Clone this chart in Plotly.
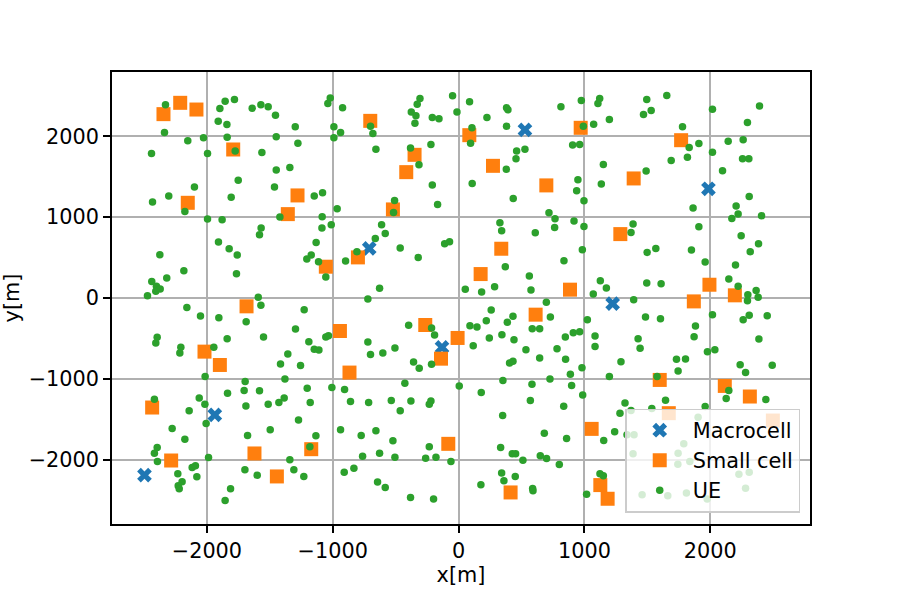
import plotly.graph_objects as go

macro_x = [527, 1985, -710, -132, 1224, -1937, -2496]
macro_y = [2079, 1350, 613, -610, -70, -1445, -2190]

small_x = [-2345, -2212, -2083, -1791, -2152,
           -702, -350, -416, -1280, -1357, -522,
           85, 970, 273, 697, 1391,
           1768,
           -1685, -2019, -1897,
           -1055, -800, -943, -265, -8, -140,
           1285, 339, 175, 885, 612,
           1993, 2195, 1869,
           -2435, -2284, -1622, -1444,
           -867, -1171, -82,
           1057, 413, 1126, 1184,
           1598, 2115, 2314, 1670, 2497]
small_y = [2273, 2413, 2330, 1836, 1177,
           2190, 1770, 1556, 1268, 1037, 1095,
           2013, 2104, 1634, 1392, 1478,
           1951,
           -103, -663, -828,
           387, 502, -408, -334, -494, -750,
           790, 609, 296, 103, -206,
           164, 33, -42,
           -1354, -2009, -1922, -2206,
           -922, -1869, -1803,
           -1618, -2404, -2313, -2482,
           -1013, -1087, -1218, -1424, -1515]

ue_pts = [
    # upper-left
    (-2329, 2388), (-1855, 2433), (-1781, 2454), (-1897, 2343), (-1640, 2347), (-1571, 2388), (-1513, 2363),
    (-1455, 2260), (-1910, 2186), (-1841, 2145), (-2337, 2046), (-2152, 1943), (-2027, 1980), (-1839, 1988),
    (-1449, 1993), (-2440, 1787), (-1995, 1787), (-1775, 1816), (-1563, 1799), (-1449, 1581), (-1751, 1457),
    (-2099, 1371), (-1463, 1371), (-2303, 1260), (-2432, 1186), (-1807, 1247), (-2175, 1070), (-1995, 976),
    (-1879, 967), (-1420, 1000),
    (-1020, 2474), (-1039, 2404), (-922, 2351), (-307, 2466), (-329, 2396), (-48, 2499), (-13, 2301),
    (-376, 2301), (-339, 2252), (-347, 2161), (-209, 2231), (-156, 2215), (-1298, 2116), (-991, 2116),
    (-938, 2046), (-991, 1980), (-700, 2124), (-681, 2034), (-1277, 1914), (-657, 1840), (-382, 1853),
    (-220, 1898), (-1341, 1614), (-315, 1647), (-209, 1396), (-1147, 1260), (-1081, 1301), (-965, 1103),
    (-509, 1206), (-167, 1157), (-517, 1058), (-1084, 1005),
    (87, 2425), (381, 2351), (392, 2326), (225, 2231), (813, 2363), (975, 2441), (1121, 2466), (1107, 2404),
    (1198, 2207), (1073, 2149), (991, 2124), (106, 2104), (381, 2124), (95, 1914), (906, 1890), (962, 1898),
    (527, 1840), (461, 1816), (456, 1721), (379, 1593), (1150, 1651), (108, 1416), (948, 1461), (938, 1326),
    (1134, 1408), (434, 1231), (996, 1202), (718, 1054), (766, 980),
    (1495, 2454), (1654, 2503), (1469, 2268), (1530, 2318), (2017, 2334), (2391, 2375), (1779, 2116),
    (2295, 2170), (1909, 1910), (1832, 1861), (2142, 1939), (2261, 1956), (2017, 1803), (1818, 1741),
    (1689, 1700), (2256, 1721), (2306, 1721), (1490, 1569), (2097, 1573), (2309, 1256), (1863, 1112),
    (2205, 1136), (2221, 1037), (2171, 984), (2407, 1017),
    # middle band
    (-1569, 864), (-1582, 782), (-1908, 691), (-1823, 609), (-1759, 531), (-2374, 535), (-2183, 337),
    (-1765, 300), (-2319, 247), (-2438, 205), (-2401, 144), (-2371, 111), (-2406, 82), (-2472, 28),
    (-1592, 8), (-1571, -91), (-2159, -116), (-2051, -223), (-1905, -243), (-1688, -293), (-2395, -486),
    (-2406, -556), (-1839, -503), (-1550, -482), (-2207, -610), (-2215, -680), (-1945, -610), (-1415, -816),
    (-1086, 864), (-1012, 905), (-612, 905), (-583, 798), (-662, 737), (-1132, 687), (-464, 617),
    (-111, 671), (-72, 695), (-808, 572), (-1171, 531), (-1206, 481), (-1113, 448), (-898, 457),
    (-321, 502), (-1055, 259), (-628, 119), (-721, -13), (-1227, -144), (-1296, -383), (-397, -338),
    (-215, -371), (-191, -457), (-1055, -482), (-1034, -466), (-1190, -540), (-1147, -634), (-1110, -643),
    (-1357, -692), (-721, -544), (-700, -700), (-602, -680), (-506, -618), (-358, -791), (-313, -869),
    (-215, -820), (-1256, -836),
    (328, 930), (342, 831), (763, 872), (917, 951), (996, 885), (1386, 914), (1370, 811), (609, 807),
    (983, 597), (837, 461), (371, 387), (562, 271), (575, 98), (53, 107), (183, 74), (286, 140),
    (1126, 214), (1174, 123), (1070, 49), (1391, -21), (697, -54), (259, -149), (432, -227), (729, -235),
    (1023, -268), (220, -280), (387, -301), (90, -342), (146, -359), (585, -379), (644, -379), (911, -429),
    (962, -416), (848, -482), (1084, -470), (244, -494), (344, -453), (440, -515), (116, -589), (1084, -601),
    (535, -639), (782, -626), (644, -741), (850, -758), (405, -803), (432, -783), (980, -861), (1290, -787),
    (1909, 881), (2245, 769), (2383, 671), (2317, 572), (1498, 564), (1567, 613), (1850, 592), (1959, 444),
    (2200, 407), (2147, 234), (2221, 144), (1495, 185), (1609, 177), (2298, 41), (2364, 94), (2380, 8),
    (2295, -33), (2017, -206), (1485, -235), (1604, -256), (2309, -214), (2261, -268), (2452, -219),
    (1882, -346), (1871, -478), (1426, -503), (1442, -622), (2386, -507), (2036, -639), (1977, -663),
    (1731, -758), (1803, -754), (2237, -824), (2492, -832),
    # lower band
    (-2014, -971), (-1696, -1033), (-1380, -1000), (-1704, -1144), (-1582, -1148), (-1836, -1177),
    (-2061, -1235), (-2417, -1251), (-2016, -1313), (-1690, -1334), (-1513, -1313), (-1428, -1292),
    (-1386, -1235), (-2141, -1395), (-2006, -1552), (-2276, -1614), (-1497, -1630), (-1677, -1700),
    (-2175, -1745), (-2395, -1848), (-2417, -1918), (-2393, -2021), (-1987, -1972), (-2117, -2095),
    (-2091, -2075), (-2231, -2174), (-2080, -2211), (-2197, -2272), (-2228, -2322), (-2220, -2359),
    (-1698, -2124), (-1600, -2190), (-1812, -2359), (-1855, -2503),
    (-1203, -1115), (-1007, -1107), (-906, -1132), (-1179, -1292), (-859, -1280), (-715, -1292),
    (-535, -1268), (-379, -1272), (-464, -1395), (-427, -1054), (-220, -1272), (-233, -1313), (5, -1087),
    (-1272, -1507), (-938, -1630), (-774, -1700), (-657, -1642), (-522, -1766), (-1134, -1704),
    (-1182, -1840), (-233, -1840), (-763, -1955), (-628, -1918), (-506, -1968), (-262, -1980),
    (-180, -1968), (-61, -2021), (-1341, -2001), (-1309, -2124), (-1230, -2206), (-909, -2153),
    (-832, -2104), (-644, -2276), (-583, -2342), (-382, -2466), (-199, -2486),
    (352, -1021), (583, -1066), (726, -1000), (888, -943), (898, -1083), (1198, -971), (180, -1169),
    (986, -1198), (570, -1268), (835, -1338), (1322, -1297), (1282, -1424), (1370, -1391), (350, -1453),
    (681, -1671), (858, -1737), (1153, -1762), (1240, -1655), (334, -1848), (426, -1926), (453, -1926),
    (511, -2005), (649, -1951), (699, -1984), (800, -2058), (342, -2165), (360, -2260), (450, -2206),
    (177, -2309), (588, -2355), (591, -2383), (1123, -2174), (1150, -2198), (1017, -2425), (1338, -1692),
    (1394, -1692), (1386, -1926),
    (1577, -971), (1744, -901), (2280, -922), (2147, -1144), (2126, -1243), (2441, -1255), (1644, -1264),
    (1535, -1367), (1959, -1342), (1903, -1474), (1789, -1803), (1744, -1918), (1742, -2054),
    (1837, -2021), (1604, -1992), (2227, -2178), (2309, -2153), (2280, -2351), (1458, -2433),
    (1662, -2445), (1810, -2412), (1975, -2486),
]
ue_x = [p[0] for p in ue_pts]
ue_y = [p[1] for p in ue_pts]

tick_vals = [-2000, -1000, 0, 1000, 2000]
FS = 20.8
FONT = "DejaVu Sans"

fig = go.Figure()
fig.add_trace(go.Scatter(x=macro_x, y=macro_y, mode="markers", name="Macrocell",
                         legendgroup="a",
                         marker=dict(symbol="x", size=13, color="#1f77b4", line=dict(width=0))))
fig.add_trace(go.Scatter(x=small_x, y=small_y, mode="markers", name="Small cell",
                         legendgroup="b",
                         marker=dict(symbol="square", size=14, color="#ff7f0e", line=dict(width=0))))
fig.add_trace(go.Scatter(x=ue_x, y=ue_y, mode="markers", name="UE",
                         legendgroup="c",
                         marker=dict(symbol="circle", size=7.5, color="#2ca02c", line=dict(width=0))))

axis_common = dict(
    showgrid=True, gridcolor="#b0b0b0", gridwidth=1.6,
    showline=True, linecolor="black", linewidth=1.6, mirror=True,
    ticks="outside", ticklen=7, tickwidth=1.6, tickcolor="black",
    tickfont=dict(family=FONT, size=FS, color="black"),
    zeroline=False, tickvals=tick_vals, automargin=False,
)
fig.update_xaxes(range=[-2754, 2792], title=dict(text="x[m]", standoff=4,
                 font=dict(family=FONT, size=FS, color="black")), **axis_common)
fig.update_yaxes(range=[-2794, 2794], title=dict(text="y[m]", standoff=8,
                 font=dict(family=FONT, size=FS, color="black")), **axis_common)

fig.update_layout(
    width=900, height=600,
    margin=dict(l=112, r=90, t=72, b=76),
    plot_bgcolor="white", paper_bgcolor="white",
    font=dict(family=FONT, size=FS, color="black"),
    legend=dict(x=0.986, y=0.025, xanchor="right", yanchor="bottom",
                bgcolor="rgba(255,255,255,0.8)", bordercolor="#cccccc", borderwidth=1.5,
                traceorder="grouped", tracegroupgap=0, itemwidth=56,
                font=dict(family=FONT, size=FS, color="black")),
    showlegend=True,
)

fig.write_html("out.html")
